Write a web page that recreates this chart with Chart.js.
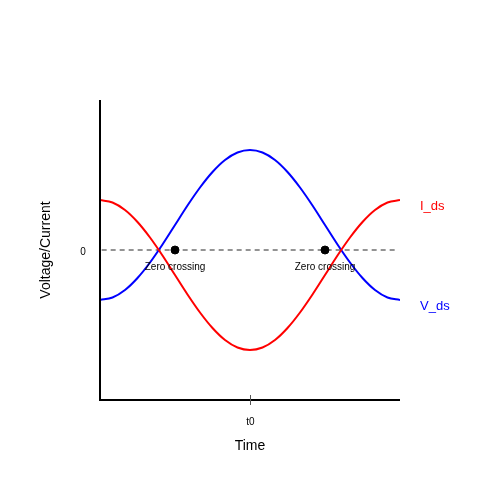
<!DOCTYPE html>
<html>
<head>
<meta charset="utf-8">
<script src="https://cdn.jsdelivr.net/npm/chart.js@4/dist/chart.umd.min.js"></script>
<style>
html,body{margin:0;padding:0;background:#fff;}
#wrap{width:500px;height:500px;}
</style>
</head>
<body>
<div id="wrap"><canvas id="c" width="500" height="500"></canvas></div>
<script>
// phase (degrees) across the time window
const phase = [0,15,30,45,60,75,90,105,120,135,150,165,180,195,210,225,240,255,270,285,300,315,330,345,360];
// I_ds (red)
const ids = [1.0,0.95,0.80,0.56,0.25,-0.11,-0.5,-0.89,-1.25,-1.56,-1.80,-1.95,-2.0,-1.95,-1.80,-1.56,-1.25,-0.89,-0.5,-0.11,0.25,0.56,0.80,0.95,1.0];
// V_ds (blue)
const vds = [-1.0,-0.95,-0.80,-0.56,-0.25,0.11,0.5,0.89,1.25,1.56,1.80,1.95,2.0,1.95,1.80,1.56,1.25,0.89,0.5,0.11,-0.25,-0.56,-0.80,-0.95,-1.0];
// zero crossing markers
const zeroX = [90,270];
const zeroY = [0,0];
const zeroLabel = "Zero crossing";
const tickX = [180];
const tickLabels = ["t0"];
const yTickVals = [0];
const yTickLabels = ["0"];
const seriesNames = ["I_ds","V_ds"];
const xTitle = "Time";
const yTitle = "Voltage/Current";

const FONT = "'Liberation Sans', Arial, sans-serif";

const pts = (xs, ys) => xs.map((x,i)=>({x:x,y:ys[i]}));

const annot = {
  id:'annot',
  afterDraw(chart){
    const ctx = chart.ctx;
    const xs = chart.scales.x, ys = chart.scales.y;
    const L = xs.left, R = xs.right, T = ys.top, B = ys.bottom;
    ctx.save();
    // axes
    ctx.strokeStyle = '#000';
    ctx.lineWidth = 2;
    ctx.beginPath();
    ctx.moveTo(L, T); ctx.lineTo(L, B); ctx.lineTo(R, B);
    ctx.stroke();
    // x ticks
    ctx.strokeStyle = '#555';
    ctx.lineWidth = 1;
    ctx.fillStyle = '#000';
    ctx.font = '10px ' + FONT;
    ctx.textAlign = 'center';
    ctx.textBaseline = 'middle';
    tickX.forEach((v,i)=>{
      const px = Math.round(xs.getPixelForValue(v)) + 0.5;
      ctx.beginPath(); ctx.moveTo(px, B-5); ctx.lineTo(px, B+5); ctx.stroke();
      ctx.fillText(tickLabels[i], px, B + 22);
    });
    // y ticks
    yTickVals.forEach((v,i)=>{
      ctx.fillText(yTickLabels[i], L - 17, ys.getPixelForValue(v) + 2);
    });
    // zero crossing labels
    zeroX.forEach((v,i)=>{
      ctx.fillText(zeroLabel, xs.getPixelForValue(v), ys.getPixelForValue(zeroY[i]) + 17);
    });
    // series labels
    ctx.font = '13px ' + FONT;
    ctx.textAlign = 'left';
    ctx.fillStyle = '#ff0000';
    ctx.fillText(seriesNames[0], R + 20, ys.getPixelForValue(ids[ids.length-1]) + 6);
    ctx.fillStyle = '#0000ff';
    ctx.fillText(seriesNames[1], R + 20, ys.getPixelForValue(vds[vds.length-1]) + 6);
    // axis titles
    ctx.fillStyle = '#000';
    ctx.font = '14px ' + FONT;
    ctx.textAlign = 'center';
    ctx.fillText(xTitle, (L+R)/2, B + 46);
    ctx.translate(L - 54, (T+B)/2);
    ctx.rotate(-Math.PI/2);
    ctx.fillText(yTitle, 0, 0);
    ctx.restore();
  }
};

new Chart(document.getElementById('c'), {
  type:'line',
  data:{
    datasets:[
      {data:pts(zeroX,zeroY), showLine:false, pointRadius:4, pointBackgroundColor:'#000', pointBorderColor:'#000', order:0},
      {data:pts(phase,ids), borderColor:'#ff0000', borderWidth:2, pointRadius:0, cubicInterpolationMode:'monotone', fill:false, order:1},
      {data:pts(phase,vds), borderColor:'#0000ff', borderWidth:2, pointRadius:0, cubicInterpolationMode:'monotone', fill:false, order:2},
      {data:pts([2,355],[0,0]), borderColor:'#707070', borderWidth:1.5, borderDash:[5,4], pointRadius:0, fill:false, order:3}
    ]
  },
  options:{
    responsive:false,
    animation:false,
    layout:{padding:{left:100,right:100,top:100,bottom:100}},
    plugins:{legend:{display:false}, tooltip:{enabled:false}},
    scales:{
      x:{type:'linear', min:0, max:360, display:false},
      y:{type:'linear', min:-3, max:3, display:false}
    }
  },
  plugins:[annot]
});
</script>
</body>
</html>
